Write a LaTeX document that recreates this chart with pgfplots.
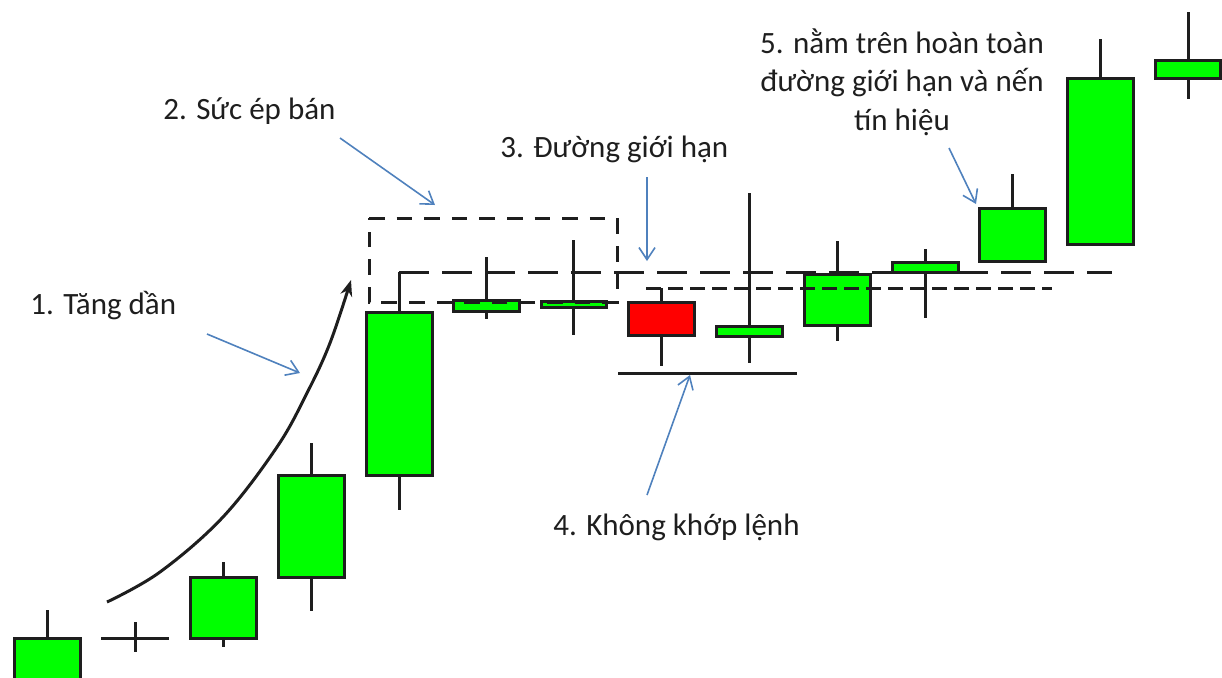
\documentclass[border=0pt]{standalone}
\usepackage{fontspec}
\setmainfont{Carlito}
\usepackage{pgfplots}
\pgfplotsset{compat=1.18}
\usetikzlibrary{arrows.meta}

\definecolor{cgreen}{RGB}{0,255,0}
\definecolor{cred}{RGB}{255,0,0}
\definecolor{cblue}{RGB}{79,129,189}
\definecolor{ink}{RGB}{30,30,30}

% candle: x left, x centre, x right, body top, body bottom, high, low, colour
\newcommand{\candle}[8]{%
  \addplot[ink, line width=1.5pt] coordinates {(#2,#6) (#2,#7)};
  \addplot[draw=ink, line width=1.5pt, fill=#8] coordinates {(#1,#4) (#3,#4) (#3,#5) (#1,#5)} -- cycle;
}

\begin{document}
\begin{tikzpicture}
\begin{axis}[
  hide axis, scale only axis,
  width=611pt, height=338.5pt,
  xmin=0, xmax=1222, ymin=0, ymax=677,
  y dir=reverse,
  clip=true,
]
% candles (pixel units, y down)
\candle{14}{47}{80}{638}{690}{610}{690}{cgreen}
\addplot[ink, line width=1.5pt] coordinates {(101,638) (169,638)};
\addplot[ink, line width=1.5pt] coordinates {(135,622) (135,652)};
\candle{190}{223}{256}{577}{638}{562}{647}{cgreen}
\candle{278}{311}{344}{475}{577}{443}{611}{cgreen}
\candle{366}{399}{432}{312}{475}{272}{510}{cgreen}
\candle{453}{486}{519}{300}{311}{257}{319}{cgreen}
\candle{541}{573}{606}{301}{307}{240}{335}{cgreen}
\candle{628}{661}{694}{302}{335}{288}{366}{cred}
\candle{716}{749}{782}{326}{336}{193}{363}{cgreen}
\candle{804}{837}{870}{274}{325}{241}{341}{cgreen}
\candle{892}{925}{958}{262}{272}{249}{318}{cgreen}
\candle{979}{1012}{1045}{208}{261}{174}{261}{cgreen}
\candle{1067}{1100}{1133}{78}{244}{39}{244}{cgreen}
\candle{1155}{1188}{1220}{60}{78}{12}{99}{cgreen}

% limit lines
\addplot[ink, line width=1.5pt, dash pattern=on 15pt off 6.5pt] coordinates {(399,272) (1112,272)};
\addplot[ink, line width=1.5pt, dash pattern=on 7.5pt off 3.5pt] coordinates {(646,288) (1052,288)};
\addplot[ink, line width=1.5pt, dash pattern=on 7.8pt off 6pt] coordinates {(369,218) (617,218) (617,302) (369,302)} -- cycle;
\addplot[ink, line width=1.5pt] coordinates {(618,373) (797,373)};

% rising curve
\addplot[ink, line width=1.5pt, smooth, tension=0.6, -{Stealth[length=8pt,width=6pt]}]
  coordinates {(107,602) (160,572) (223,517) (277,447) (307,393) (330,343) (351,280)};

% pointer arrows
\addplot[cblue, line width=0.8pt, -{Straight Barb[length=6pt,width=8pt]}] coordinates {(207,334) (300,373)};
\addplot[cblue, line width=0.8pt, -{Straight Barb[length=6pt,width=8pt]}] coordinates {(340,138) (435,205)};
\addplot[cblue, line width=0.8pt, -{Straight Barb[length=6pt,width=8pt]}] coordinates {(647,177) (647,261)};
\addplot[cblue, line width=0.8pt, -{Straight Barb[length=6pt,width=8pt]}] coordinates {(647,495) (690,375)};
\addplot[cblue, line width=0.8pt, -{Straight Barb[length=6pt,width=8pt]}] coordinates {(949,148) (976,204)};

% labels
\begin{scope}[every node/.style={text=ink, inner sep=0pt, font=\fontsize{15.5pt}{19pt}\selectfont}]
\node[anchor=base west] at (axis cs:30,314) {1. Tăng dần};
\node[anchor=base west] at (axis cs:163,119) {2. Sức ép bán};
\node[anchor=base west] at (axis cs:500,157) {3. Đường giới hạn};
\node[anchor=base west] at (axis cs:553,535) {4. Không khớp lệnh};
\node[anchor=base] at (axis cs:902,53) {5. nằm trên hoàn toàn};
\node[anchor=base] at (axis cs:902,91) {đường giới hạn và nến};
\node[anchor=base] at (axis cs:902,130) {tín hiệu};
\end{scope}
\end{axis}
\pgfresetboundingbox
\useasboundingbox (current axis.south west) rectangle (current axis.north east);
\end{tikzpicture}
\end{document}
